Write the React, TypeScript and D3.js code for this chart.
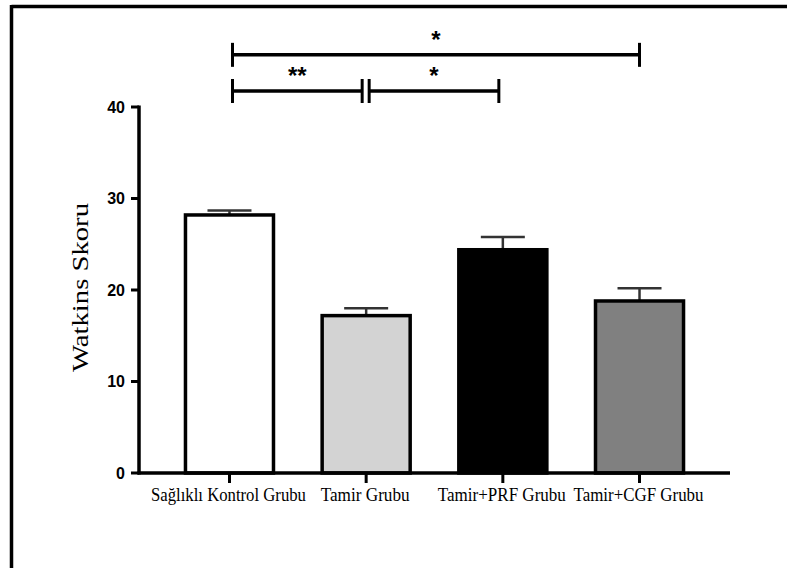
import React from "react";
import * as d3 from "d3";

const categories = ["Sağlıklı Kontrol Grubu", "Tamir Grubu", "Tamir+PRF Grubu", "Tamir+CGF Grubu"];
const means = [28.2, 17.2, 24.4, 18.8];
const errors = [0.5, 0.8, 1.4, 1.4];
const fills = ["#ffffff", "#d3d3d3", "#000000", "#808080"];
const yTicks = [0, 10, 20, 30, 40];
const sigFrom = [0, 0, 1];
const sigTo = [3, 1, 2];
const sigLabels = ["*", "**", "*"];
const sigLevels = [45.7, 41.75, 41.75];
const labelWidths = [155, 89, 128, 130];

export default function App() {
  const W = 787, H = 568;
  const y = d3.scaleLinear().domain([0, 40]).range([473, 107]);
  const x = d3.scaleBand<string>().domain(categories).range([139, 730]).paddingInner(0.356).paddingOuter(0.34);
  const bw = x.bandwidth();
  const cx = (i: number) => (x(categories[i]) as number) + bw / 2;

  return (
    <svg width={W} height={H} style={{ position: "absolute", left: 0, top: 0, background: "#fff" }}>
      {/* frame */}
      <line x1={11.5} y1={6.5} x2={787} y2={6.5} stroke="#000" strokeWidth={3.5} />
      <line x1={11.5} y1={5} x2={11.5} y2={568} stroke="#000" strokeWidth={3.5} />

      {/* bars */}
      {categories.map((c, i) => (
        <g key={c}>
          <line x1={cx(i)} x2={cx(i)} y1={y(means[i])} y2={y(means[i] + errors[i])} stroke="#333" strokeWidth={2.5} />
          <line x1={cx(i) - 22} x2={cx(i) + 22} y1={y(means[i] + errors[i])} y2={y(means[i] + errors[i])} stroke="#333" strokeWidth={2.5} />
          <rect x={(x(c) as number)} y={y(means[i])} width={bw} height={y(0) - y(means[i])} fill={fills[i]} stroke="#000" strokeWidth={3.5} />
        </g>
      ))}

      {/* y axis */}
      <line x1={139} x2={139} y1={y(40) - 1.5} y2={y(0) + 1.5} stroke="#000" strokeWidth={3.5} />
      {yTicks.map((t) => (
        <g key={t}>
          <line x1={131} x2={139} y1={y(t)} y2={y(t)} stroke="#000" strokeWidth={3} />
          <text x={125} y={y(t)} dy="0.36em" textAnchor="end" fontFamily="Liberation Sans, Arial, sans-serif" fontWeight="bold" fontSize={16} fill="#000">
            {t}
          </text>
        </g>
      ))}
      <text transform={`translate(88,287.5) rotate(-90)`} textAnchor="middle" fontFamily="Liberation Serif, Times New Roman, serif" fontSize={24} fill="#000" textLength={169} lengthAdjust="spacingAndGlyphs">
        Watkins Skoru
      </text>

      {/* x axis */}
      <line x1={137.5} x2={730} y1={y(0)} y2={y(0)} stroke="#000" strokeWidth={3.5} />
      {categories.map((c, i) => (
        <g key={c + "t"}>
          <line x1={cx(i)} x2={cx(i)} y1={y(0)} y2={y(0) + 10} stroke="#000" strokeWidth={3} />
          <text x={cx(i) - 1} y={501} textAnchor="middle" fontFamily="Liberation Serif, Times New Roman, serif" fontSize={19} fill="#000" textLength={labelWidths[i]} lengthAdjust="spacingAndGlyphs">
            {c}
          </text>
        </g>
      ))}

      {/* significance brackets */}
      {sigFrom.map((f, k) => {
        const t = sigTo[k];
        const x1 = cx(f) + 3;
        const x2 = cx(t) - (t === 3 ? 0 : 4);
        const yy = y(sigLevels[k]);
        return (
          <g key={"s" + k}>
            <line x1={x1} x2={x2} y1={yy} y2={yy} stroke="#000" strokeWidth={3.5} />
            <line x1={x1} x2={x1} y1={yy - 12} y2={yy + 12} stroke="#000" strokeWidth={3} />
            <line x1={x2} x2={x2} y1={yy - 12} y2={yy + 12} stroke="#000" strokeWidth={3} />
            <text x={(x1 + x2) / 2} y={yy - 7} textAnchor="middle" fontFamily="Liberation Sans, Arial, sans-serif" fontWeight="bold" fontSize={24} fill="#000">
              {sigLabels[k]}
            </text>
          </g>
        );
      })}
    </svg>
  );
}
